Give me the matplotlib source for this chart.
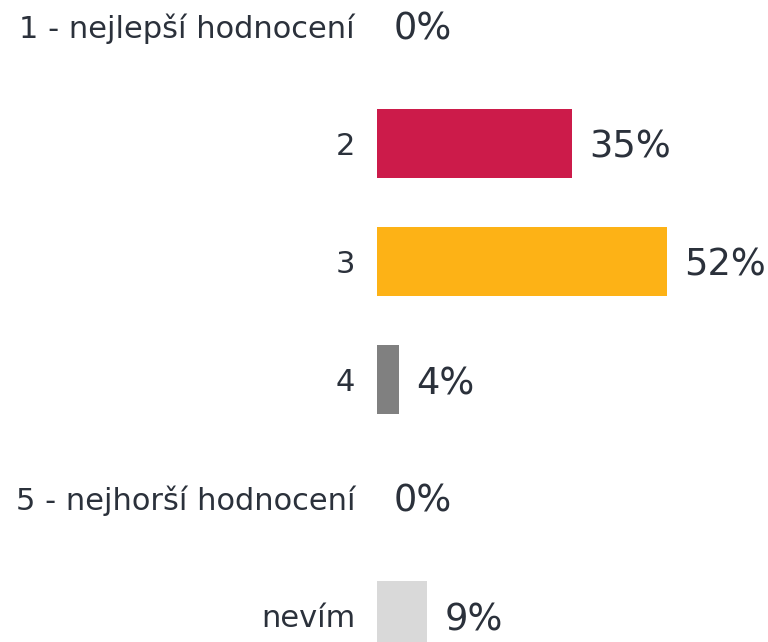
import matplotlib
matplotlib.use("Agg")
import matplotlib.pyplot as plt

categories = ["1 - nejlepší hodnocení", "2", "3", "4", "5 - nejhorší hodnocení", "nevím"]
values = [0, 35, 52, 4, 0, 9]
labels = ["0%", "35%", "52%", "4%", "0%", "9%"]
colors = ["#CC1B4A", "#CC1B4A", "#FDB216", "#808080", "#808080", "#D9D9D9"]

W, H = 768, 642
fig = plt.figure(figsize=(W / 100, H / 100), dpi=100)
ax = fig.add_axes([0, 0, 1, 1])

px_per_unit = 5.58
x0_px = 377
row0_px = 25.5
row_step = 118.0
ax.set_xlim(-x0_px / px_per_unit, (W - x0_px) / px_per_unit)
ax.set_ylim((H - row0_px) / row_step, -row0_px / row_step)

ypos = list(range(len(categories)))
ax.barh(ypos, values, height=69 / row_step, color=colors, left=0)

text_color = "#2B313B"
off_val = 17 / px_per_unit
off_cat = 22 / px_per_unit
for y, v, lab, cat in zip(ypos, values, labels, categories):
    ax.text(v + off_val, y, lab, va="center_baseline", ha="left",
            fontsize=26.5, color=text_color, family="DejaVu Sans")
    ax.text(-off_cat, y, cat, va="center_baseline", ha="right",
            fontsize=22, color=text_color, family="DejaVu Sans")

ax.axis("off")
fig.savefig("out.png", dpi=100)
